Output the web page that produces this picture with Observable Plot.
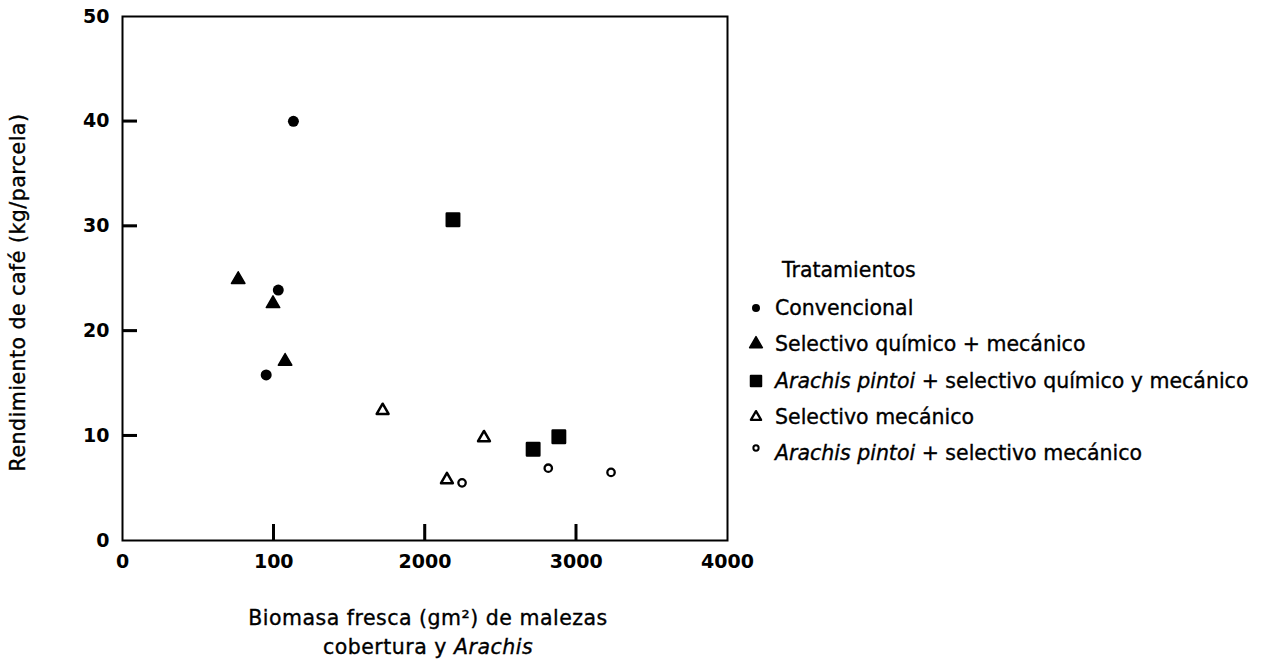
<!DOCTYPE html>
<html><head><meta charset="utf-8">
<script src="https://cdn.jsdelivr.net/npm/d3@7"></script>
<script src="https://cdn.jsdelivr.net/npm/@observablehq/plot@0.6"></script>
<style>
body{margin:0;background:#fff;}
#wrap{position:relative;width:1276px;height:660px;font-family:"DejaVu Sans",sans-serif;color:#000;overflow:hidden;}
#wrap svg.plot{position:absolute;left:0;top:0;}
.xlabel{position:absolute;left:128px;width:600px;top:604px;text-align:center;font-size:20.5px;line-height:29px;letter-spacing:0.5px;-webkit-text-stroke:0.35px #000;white-space:nowrap;}
.legend{position:absolute;left:744px;top:250px;font-size:20.5px;-webkit-text-stroke:0.35px #000;white-space:nowrap;}
.legend .ttl{margin-left:38px;height:40px;line-height:40px;}
.legend .row{height:36.3px;line-height:36.3px;display:flex;align-items:center;}
.legend .row svg{width:24px;height:24px;margin-right:7px;flex:none;}
.legend .row:first-of-type{margin-top:8px;}
</style>
</head><body><div id="wrap"></div>
<script>
// ---- data ----
const seriesNames = [
  "Convencional",
  "Selectivo químico + mecánico",
  "Arachis pintoi + selectivo químico y mecánico",
  "Selectivo mecánico",
  "Arachis pintoi + selectivo mecánico"
];
const convX = [1130, 1030, 950];
const convY = [40.0, 23.9, 15.8];
const quimX = [765, 995, 1075];
const quimY = [24.9, 22.6, 17.1];
const apqX = [2185, 2715, 2885];
const apqY = [30.6, 8.7, 9.9];
const mecX = [1720, 2390, 2145];
const mecY = [12.4, 9.8, 5.8];
const apmX = [2245, 2815, 3230];
const apmY = [5.5, 6.9, 6.5];

const xTicks = [0, 1000, 2000, 3000, 4000];
const xTickLabels = ["0", "100", "2000", "3000", "4000"];
const yTicks = [0, 10, 20, 30, 40, 50];
const yLabel = "Rendimiento de café (kg/parcela)";
const legendTitle = "Tratamientos";

const rows = (xs, ys) => xs.map((x, i) => ({x, y: ys[i]}));

const W = 1276, H = 660, ML = 122, MR = 549, MT = 16, MB = 120;
const frameW = W - ML - MR, frameH = H - MT - MB;

const plot = Plot.plot({
  width: W,
  height: H,
  marginLeft: ML,
  marginRight: MR,
  marginTop: MT,
  marginBottom: MB,
  style: {fontFamily: "DejaVu Sans, sans-serif", fontSize: "19px", color: "#000", background: "#fff"},
  x: {domain: [0, 4000], axis: null},
  y: {domain: [0, 50], axis: null},
  marks: [
    Plot.frame({stroke: "#000", strokeWidth: 2}),
    // tick labels
    Plot.axisX({ticks: xTicks, tickSize: 0, tickPadding: 14, tickFormat: (d, i) => xTickLabels[i], fontSize: 19, fontWeight: "bold", label: null}),
    Plot.axisY({ticks: yTicks, tickSize: 0, tickPadding: 13, fontSize: 19, fontWeight: "bold", label: null}),
    // y title
    Plot.text([yLabel], {frameAnchor: "left", rotate: -90, dx: -112, dy: 14, lineAnchor: "top", textAnchor: "middle", fontSize: 20.5, fill: "#000", text: d => d}),
    // data
    Plot.dot(rows(convX, convY), {x: "x", y: "y", symbol: "circle", fill: "#000", r: 5.5}),
    Plot.dot(rows(quimX, quimY), {x: "x", y: "y", symbol: "triangle", fill: "#000", stroke: "#000", strokeWidth: 1.5, strokeLinejoin: "round", r: 5}),
    Plot.dot(rows(apqX, apqY), {x: "x", y: "y", symbol: "square", fill: "#000", stroke: "#000", strokeWidth: 2.5, strokeLinejoin: "round", r: 7}),
    Plot.dot(rows(mecX, mecY), {x: "x", y: "y", symbol: "triangle", fill: "#fff", stroke: "#000", strokeWidth: 2.5, strokeLinejoin: "round", r: 4.4}),
    Plot.dot(rows(apmX, apmY), {x: "x", y: "y", symbol: "circle", fill: "#fff", stroke: "#000", strokeWidth: 2.3, r: 3.7}),
    // inward ticks (16px long from the bottom, 15px from the left)
    Plot.tickX(xTicks.slice(1, -1), {x: d => d, stroke: "#000", strokeWidth: 2.5, insetTop: frameH - 16}),
    Plot.tickY(yTicks.slice(1, -1), {y: d => d, stroke: "#000", strokeWidth: 2.5, insetRight: frameW - 15})
  ]
});
plot.classList.add("plot");
const wrap = document.getElementById("wrap");
wrap.appendChild(plot);
// y title: slightly heavier and tracked, like the printed original
plot.querySelectorAll("text").forEach(el => {
  if (el.textContent === yLabel) {
    el.setAttribute("stroke", "#000");
    el.setAttribute("stroke-width", "0.35");
    el.setAttribute("letter-spacing", "0.5");
  }
});
// inward ticks again through Plot's own scales, appended on top as a safeguard
const sx = plot.scale("x"), sy = plot.scale("y");
const gT = d3.select(plot).append("g").attr("stroke", "#000").attr("stroke-width", 2.5);
xTicks.slice(1, -1).forEach(v => {
  const px = sx.apply(v);
  gT.append("line").attr("x1", px).attr("x2", px).attr("y1", sy.apply(0) - 16).attr("y2", sy.apply(0));
});
yTicks.slice(1, -1).forEach(v => {
  const py = sy.apply(v);
  gT.append("line").attr("x1", sx.apply(0)).attr("x2", sx.apply(0) + 15).attr("y1", py).attr("y2", py);
});

// x-axis title below the frame
const xl = document.createElement("div");
xl.className = "xlabel";
xl.innerHTML = "Biomasa fresca (gm²) de malezas<br>cobertura y <i>Arachis</i>";
wrap.appendChild(xl);

// legend
const legendSymbols = [
  {type: d3.symbolCircle, size: 50, fill: "#000", stroke: "none", sw: 0, dy: 0},
  {type: d3.symbolTriangle, size: 70, fill: "#000", stroke: "#000", sw: 1.5, dy: 0},
  {type: d3.symbolSquare, size: 110, fill: "#000", stroke: "#000", sw: 2, dy: 0},
  {type: d3.symbolTriangle, size: 45, fill: "#fff", stroke: "#000", sw: 2.3, dy: 0},
  {type: d3.symbolCircle, size: 22, fill: "#fff", stroke: "#000", sw: 2, dy: -5}
];
const leg = document.createElement("div");
leg.className = "legend";
const t = document.createElement("div");
t.className = "ttl"; t.textContent = legendTitle;
leg.appendChild(t);
seriesNames.forEach((name, i) => {
  const s = legendSymbols[i];
  const row = document.createElement("div");
  row.className = "row";
  const svg = d3.create("svg").attr("viewBox", "-12 -12 24 24");
  svg.append("path").attr("d", d3.symbol(s.type, s.size)()).attr("transform", `translate(0,${s.dy})`)
    .attr("fill", s.fill).attr("stroke", s.stroke).attr("stroke-width", s.sw).attr("stroke-linejoin", "round");
  row.appendChild(svg.node());
  const span = document.createElement("span");
  span.innerHTML = name.startsWith("Arachis pintoi") ? "<i>Arachis pintoi</i>" + name.slice("Arachis pintoi".length) : name;
  row.appendChild(span);
  leg.appendChild(row);
});
wrap.appendChild(leg);
</script>
</body></html>
